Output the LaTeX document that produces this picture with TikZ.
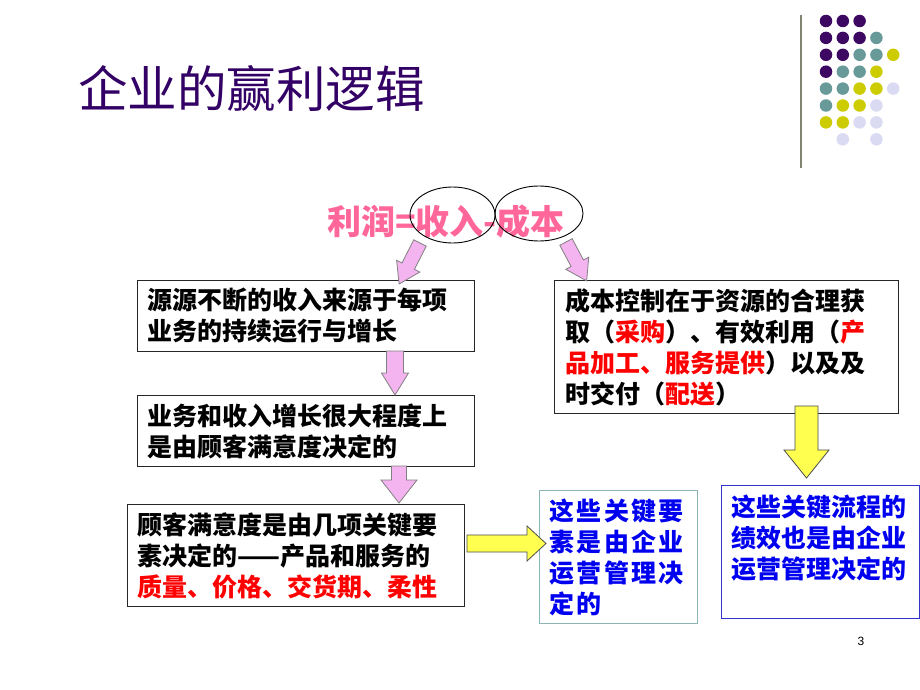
\documentclass[tikz,border=0pt]{standalone}
\usepackage{fontspec}
\setmainfont{Liberation Sans}
\newfontfamily\cjk{Noto Sans CJK SC}
\newfontfamily\cjksp{Noto Sans CJK SC}[LetterSpace=9]
\usetikzlibrary{shapes.geometric}
\definecolor{titlepurple}{RGB}{51,0,102}
\definecolor{dotpurple}{RGB}{60,8,98}
\definecolor{dotteal}{RGB}{104,154,154}
\definecolor{dotyellow}{RGB}{204,204,0}
\definecolor{dotlav}{RGB}{218,218,242}
\definecolor{rulegray}{RGB}{128,132,112}
\definecolor{formulapink}{RGB}{255,102,153}
\definecolor{arrowpink}{RGB}{244,180,240}
\definecolor{arrowyellow}{RGB}{255,255,80}
\definecolor{tealborder}{RGB}{140,182,182}
\definecolor{blueborder}{RGB}{51,51,204}
\definecolor{textblue}{RGB}{0,0,240}
\definecolor{textred}{RGB}{255,0,0}
% #1 style, #2 x, #3 y (tail centre), #4 angle, #5 length, #6 shaft half, #7 head half, #8 head length
\newcommand{\blkarrowdraw}[8]{%
  \begin{scope}[shift={(#2,#3)},rotate=#4]
    \draw[#1] (-#6,0) -- (-#6,#5-#8) -- (-#7,#5-#8) -- (0,#5) -- (#7,#5-#8) -- (#6,#5-#8) -- (#6,0) -- cycle;
  \end{scope}}
\begin{document}
\begin{tikzpicture}[x=1pt,y=-1pt,
  box/.style={draw=black!85, line width=1.1pt, fill=white, anchor=north west,
    inner xsep=10pt, inner ysep=0pt, align=left,
    font=\cjk\bfseries\fontsize{25}{31}\selectfont},
  pinkarr/.style={fill=arrowpink, draw=gray, line width=0.8pt},
  yelarr/.style={fill=arrowyellow, draw=black!70, line width=0.8pt},
  dot/.style={circle, inner sep=0pt, minimum size=12.5pt}
]
\useasboundingbox (0,0) rectangle (920,690);
\fill[white] (0,0) rectangle (920,690);

% title
\node[anchor=base west, inner sep=0pt, text=titlepurple, font=\cjk\fontsize{49.5}{54}\selectfont] (title) at (78,107) {企业的赢利逻辑};

% decoration
\draw[rulegray, line width=2pt] (801,15) coordinate (r1) -- (801,168) coordinate (r2);
\foreach \c/\r/\col in {0/0/dotpurple,1/0/dotpurple,2/0/dotpurple,
  0/1/dotpurple,1/1/dotpurple,2/1/dotpurple,3/1/dotteal,
  0/2/dotpurple,1/2/dotpurple,2/2/dotteal,3/2/dotteal,4/2/dotyellow,
  0/3/dotpurple,1/3/dotteal,2/3/dotteal,3/3/dotyellow,
  0/4/dotteal,1/4/dotteal,2/4/dotyellow,3/4/dotyellow,4/4/dotlav,
  0/5/dotteal,1/5/dotyellow,2/5/dotyellow,3/5/dotlav,
  0/6/dotyellow,1/6/dotyellow,2/6/dotlav,3/6/dotlav,
  1/7/dotlav,3/7/dotlav}
  \node[dot, fill=\col] (d\c\r) at ({826+16.8*\c},{21+16.9*\r}) {};

% formula
\node[anchor=base, inner sep=0pt, text=formulapink, font=\cjk\bfseries\fontsize{34}{38}\selectfont] (formula) at (446,234) {利润=收入-成本};
\node[ellipse, draw=black, line width=0.9pt, minimum width=85pt, minimum height=56pt] (e1) at (452.5,215) {};
\node[ellipse, draw=black, line width=0.9pt, minimum width=88pt, minimum height=55pt] (e2) at (539,213.5) {};

% boxes
\node[box, minimum width=337pt, minimum height=71pt, text width=317pt] (b1) at (137,280)
  {源源不断的收入来源于每项\\业务的持续运行与增长};
\node[box, minimum width=337pt, minimum height=71pt, text width=317pt] (b2) at (137,395)
  {业务和收入增长很大程度上\\是由顾客满意度决定的};
\node[box, minimum width=337pt, minimum height=102pt, text width=317pt] (b3) at (127,504)
  {顾客满意度是由几项关键要\\素决定的——产品和服务的\\{\color{textred}质量、价格、交货期、柔性}};
\node[box, minimum width=344pt, minimum height=133pt, text width=322pt, inner xsep=11pt] (bc) at (554,280)
  {成本控制在于资源的合理获\\取（{\color{textred}采购}）、有效利用（{\color{textred}产}\\{\color{textred}品加工、服务提供}）以及及\\时交付（{\color{textred}配送}）};
\node[box, draw=tealborder, text=textblue, minimum width=158pt, minimum height=133pt, text width=138pt,
  font=\cjksp\bfseries\fontsize{25}{31}\selectfont] (b4) at (539,490)
  {这些关键要\\素是由企业\\运营管理决\\定的};
\node[box, draw=blueborder, text=textblue, minimum width=198pt, minimum height=133pt, text width=178pt] (b5) at (721,485)
  {这些关键流程的\\绩效也是由企业\\运营管理决定的\\\mbox{}};

% arrows
\blkarrowdraw{pinkarr}{420}{243}{-27}{46}{7}{13}{20}
\blkarrowdraw{pinkarr}{566}{242}{28}{44}{7}{13}{20}
\blkarrowdraw{pinkarr}{395}{351}{0}{44}{8.5}{13.5}{22}
\blkarrowdraw{pinkarr}{399}{466}{0}{37}{7.5}{18}{23}
\blkarrowdraw{yelarr}{467}{543.5}{90}{79}{8.5}{17.5}{19}
\blkarrowdraw{yelarr}{806.5}{406}{0}{72}{11.5}{22.5}{28}

% page number
\node[font=\fontsize{12}{14}\selectfont, inner sep=0pt] (pg) at (861,641) {3};
\end{tikzpicture}
\end{document}
